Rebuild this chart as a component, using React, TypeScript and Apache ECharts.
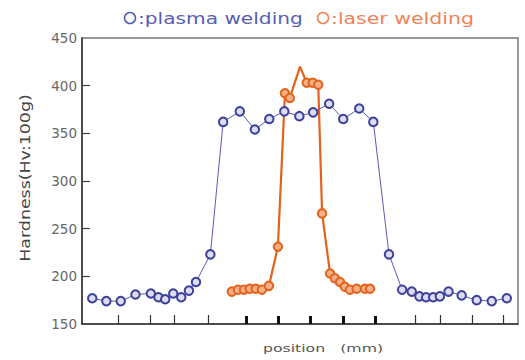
import React, { useEffect, useRef } from "react";
import * as echarts from "echarts";

// Plasma welding: position (mm) and hardness (Hv:100g)
const plasmaPos = [-6.8, -6.36, -5.91, -5.45, -4.97, -4.73, -4.52, -4.27, -4.02, -3.78, -3.56, -3.11, -2.71, -2.19, -1.72, -1.27, -0.8, -0.33, 0.1, 0.6, 1.04, 1.54, 1.98, 2.47, 2.88, 3.18, 3.42, 3.63, 3.85, 4.06, 4.33, 4.74, 5.21, 5.68, 6.15];
const plasmaHardness = [177, 174, 174, 181, 182, 178, 176, 182, 178, 185, 194, 223, 362, 373, 354, 365, 373, 368, 372, 381, 365, 376, 362, 223, 186, 184, 179, 178, 178, 179, 184, 180, 175, 174, 177];

// Laser welding
const laserPos = [-2.44, -2.25, -2.06, -1.88, -1.69, -1.5, -1.28, -1.0, -0.78, -0.63, -0.31, -0.1, 0.09, 0.26, 0.38, 0.63, 0.78, 0.94, 1.09, 1.25, 1.46, 1.72, 1.88];
const laserHardness = [184, 186, 186, 187, 187, 186, 190, 231, 392, 387, 420, 403, 403, 401, 266, 203, 198, 194, 189, 186, 187, 187, 187];

const posMin = -7.12;
const posMax = 6.5;
const hardMin = 150;
const hardMax = 450;
const hardStep = 50;
const yTickValues = [200, 250, 300, 350, 400];
const xMinorTicks = [-6, -5, -4.25, -3.19, 3.28, 4.06, 5.06, 6.03];
const xMajorTicks = [-2, -1, 0, 1.03, 2.03];

const legendNames = [":plasma welding", ":laser welding"];
const yTitle = "Hardness(Hv:100g)";
const xTitle = "position   (mm)";

const BLUE = "#3d409c";
const BLUE_LINE = "#5a5db0";
const ORANGE = "#e4621c";

export default function App() {
  const ref = useRef<HTMLDivElement>(null);
  useEffect(() => {
    if (!ref.current) return;
    const chart = echarts.init(ref.current, undefined, { renderer: "svg" });
    const peak = Math.max(...laserHardness);
    const laserData = laserPos.map((x, i) =>
      laserHardness[i] === peak
        ? { value: [x, laserHardness[i]], symbol: "none" }
        : [x, laserHardness[i]]
    );
    const plasmaData = plasmaPos.map((x, i) => [x, plasmaHardness[i]]);
    chart.setOption({
      animation: false,
      backgroundColor: "#fff",
      grid: {
        left: 82,
        right: 7,
        top: 38,
        bottom: 36,
        show: true,
        borderColor: "#777",
        borderWidth: 1.5,
        backgroundColor: "transparent",
      },
      xAxis: [
        {
          type: "value",
          min: posMin,
          max: posMax,
          position: "bottom",
          axisLine: { show: true, onZero: false, lineStyle: { color: "#333", width: 1.5 } },
          axisTick: {
            show: true,
            inside: true,
            length: 9,
            customValues: xMinorTicks,
            lineStyle: { color: "#333", width: 1.2 },
          },
          axisLabel: { show: false },
          splitLine: { show: false },
        },
        {
          type: "value",
          min: posMin,
          max: posMax,
          position: "bottom",
          axisLine: { show: false, onZero: false },
          axisTick: {
            show: true,
            inside: true,
            length: 8,
            customValues: xMajorTicks,
            lineStyle: { color: "#111", width: 3 },
          },
          axisLabel: { show: false },
          splitLine: { show: false },
        },
      ],
      yAxis: {
        type: "value",
        min: hardMin,
        max: hardMax,
        interval: hardStep,
        position: "left",
        axisLine: { show: true, onZero: false, lineStyle: { color: "#333", width: 1.5 } },
        axisTick: {
          show: true,
          inside: true,
          length: 8,
          customValues: yTickValues,
          lineStyle: { color: "#444", width: 1.2 },
        },
        axisLabel: {
          color: "#666",
          fontSize: 13.5,
          fontFamily: "DejaVu Sans",
          margin: 5,
        },
        splitLine: { show: false },
      },
      graphic: [
        {
          type: "circle",
          shape: { cx: 130, cy: 18, r: 5.5 },
          style: { fill: "none", stroke: "#5560b4", lineWidth: 1.5 },
        },
        {
          type: "text",
          x: 138,
          y: 18,
          scaleX: 1.26,
          style: {
            text: legendNames[0],
            fill: "#5560b4",
            font: "16px 'DejaVu Sans'",
            verticalAlign: "middle",
            align: "left",
          },
        },
        {
          type: "circle",
          shape: { cx: 323, cy: 18, r: 5.5 },
          style: { fill: "none", stroke: "#f08358", lineWidth: 1.5 },
        },
        {
          type: "text",
          x: 331,
          y: 18,
          scaleX: 1.28,
          style: {
            text: legendNames[1],
            fill: "#f08358",
            font: "16px 'DejaVu Sans'",
            verticalAlign: "middle",
            align: "left",
          },
        },
        {
          type: "text",
          x: 25,
          y: 178,
          rotation: Math.PI / 2,
          scaleX: 1.2,
          style: {
            text: yTitle,
            fill: "#444",
            font: "14.5px 'DejaVu Sans'",
            align: "center",
            verticalAlign: "middle",
          },
        },
        {
          type: "text",
          x: 323,
          y: 348,
          scaleX: 1.43,
          style: {
            text: xTitle,
            fill: "#555",
            font: "11px 'DejaVu Sans'",
            align: "center",
            verticalAlign: "middle",
          },
        },
      ],
      series: [
        {
          name: "laser welding",
          type: "line",
          xAxisIndex: 0,
          data: laserData,
          symbol: "circle",
          symbolSize: 8.5,
          lineStyle: { color: ORANGE, width: 2.2 },
          itemStyle: { color: "#f5b086", borderColor: ORANGE, borderWidth: 2 },
        },
        {
          name: "plasma welding",
          type: "line",
          xAxisIndex: 0,
          data: plasmaData,
          symbol: "circle",
          symbolSize: 8.5,
          lineStyle: { color: BLUE_LINE, width: 1 },
          itemStyle: { color: "#dcddf0", borderColor: BLUE, borderWidth: 2 },
        },
      ],
    });
    return () => chart.dispose();
  }, []);
  return (
    <div
      ref={ref}
      style={{ position: "fixed", left: 0, top: 0, width: 525, height: 360, background: "#fff" }}
    />
  );
}
